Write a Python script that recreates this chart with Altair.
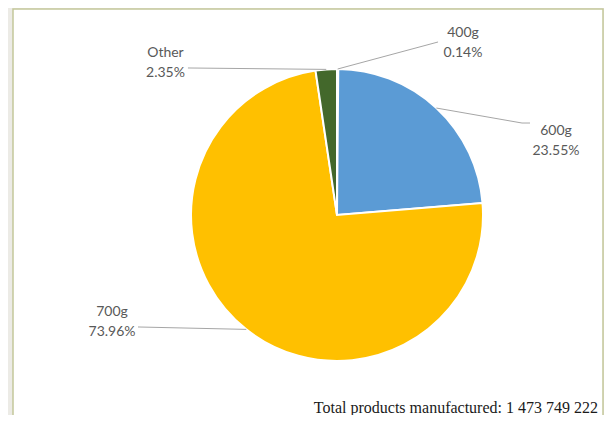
import math
import altair as alt
import pandas as pd

# ---- data ----
labels = ["400g", "600g", "700g", "Other"]
shares = [0.14, 23.55, 73.96, 2.35]
colors = ["#A5A5A5", "#5B9BD5", "#FFC000", "#43682B"]
total_text = "Total products manufactured: 1 473 749 222"

# ---- layout ----
W, H = 596, 407
CX, CY, R = 329, 207, 146          # pie centre / radius (px)
# label block centres and leader-line end points, in pie-radius units
label_pos = {"400g": (0.863, 1.25), "600g": (1.50, 0.575),
             "700g": (-1.541, -0.664), "Other": (-1.175, 1.108)}
line_ends = {"400g": [(0.692, 1.185)],
             "600g": [(1.267, 0.630), (1.322, 0.630)],
             "700g": [(-1.363, -0.767)],
             "Other": [(-1.021, 1.007)]}

slices = pd.DataFrame({"label": labels, "share": shares,
                       "order": list(range(len(labels)))})

# leader lines start at slice mid-angle on the pie edge
rows, txt = [], []
cum = 0.0
tot = sum(shares)
for lab, s in zip(labels, shares):
    mid = (cum + s / 2) / tot * 2 * math.pi
    cum += s
    pts = [(math.sin(mid), math.cos(mid))] + line_ends[lab]
    for i, (u, v) in enumerate(pts):
        rows.append({"label": lab, "seq": i, "u": u, "v": v})
    tu, tv = label_pos[lab]
    txt.append({"label": lab, "text": f"{lab}\n{s:.2f}%", "u": tu, "v": tv})
lines = pd.DataFrame(rows)
texts = pd.DataFrame(txt)

xs = alt.Scale(domain=[-CX / R, (W - CX) / R], range=[0, W], nice=False, zero=False)
ys = alt.Scale(domain=[(CY - H) / R, CY / R], range=[H, 0], nice=False, zero=False)

panel = alt.Chart(pd.DataFrame({"k": [0]})).mark_rect(
    fill="white", stroke="#c4c79b", strokeWidth=1.5
).encode(x=alt.value(5), x2=alt.value(595), y=alt.value(1), y2=alt.value(440))

pie = alt.Chart(slices).mark_arc(radius=R, stroke="white", strokeWidth=2).encode(
    theta=alt.Theta("share:Q", stack=True),
    order=alt.Order("order:Q"),
    color=alt.Color("label:N", scale=alt.Scale(domain=labels, range=colors), legend=None),
    x=alt.value(CX), y=alt.value(CY),
)

leader = alt.Chart(lines).mark_line(color="#a6a6a6", strokeWidth=1).encode(
    x=alt.X("u:Q", scale=xs, axis=None),
    y=alt.Y("v:Q", scale=ys, axis=None),
    detail="label:N",
    order="seq:Q",
)

lab = alt.Chart(texts).mark_text(
    font="Lato", fontSize=14, color="#595959", align="center",
    baseline="middle", lineBreak="\n", lineHeight=20
).encode(
    x=alt.X("u:Q", scale=xs, axis=None),
    y=alt.Y("v:Q", scale=ys, axis=None),
    text="text:N",
)

footer = alt.Chart(pd.DataFrame({"t": [total_text]})).mark_text(
    font="Liberation Serif", fontSize=16, color="#1a1a1a", align="right",
    baseline="alphabetic"
).encode(x=alt.value(590), y=alt.value(405), text="t:N")

chart = alt.layer(panel, pie, leader, lab, footer).properties(
    width=W, height=H, padding=0,
    autosize=alt.AutoSizeParams(type="none"),
    background="#ecebe6",
).configure_view(stroke=None)

chart.save("out.html", embed_options={"renderer": "svg", "actions": False})
